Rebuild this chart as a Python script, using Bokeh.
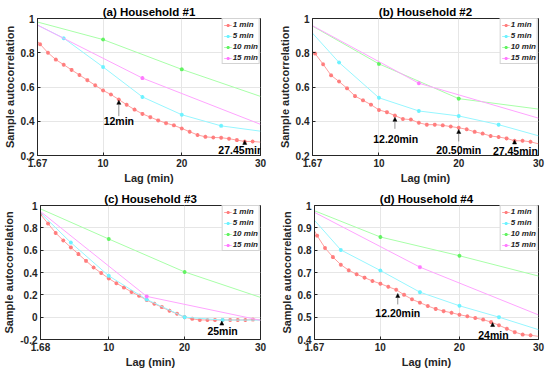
from bokeh.plotting import figure
from bokeh.models import FixedTicker, Arrow, NormalHead, Label, Range1d
from bokeh.layouts import column, row
from bokeh.embed import file_html
from bokeh.resources import INLINE

# ---------------- data ----------------
lags_1min = list(range(1, 31))
lags_5min = [0, 5, 10, 15, 20, 25, 30]
lags_10min = [0, 10, 20, 30]
lags_15min = [0, 15, 30]
series_names = ["1 min", "5 min", "10 min", "15 min"]

a_1min = [0.90, 0.85, 0.80, 0.76, 0.73, 0.70, 0.67, 0.64, 0.61, 0.58,
          0.556, 0.527, 0.496, 0.468, 0.443, 0.424, 0.405, 0.389, 0.376, 0.358,
          0.339, 0.32, 0.309, 0.305, 0.304, 0.298, 0.29, 0.282, 0.282, 0.278]
a_5min = [1.0, 0.885, 0.717, 0.542, 0.438, 0.373, 0.342]
a_10min = [1.0, 0.877, 0.703, 0.545]
a_15min = [1.0, 0.652, 0.382]

b_1min = [0.84, 0.795, 0.733, 0.668, 0.632, 0.592, 0.547, 0.522, 0.497, 0.466,
          0.453, 0.433, 0.413, 0.41, 0.391, 0.38, 0.38, 0.376, 0.369, 0.362,
          0.353, 0.338, 0.328, 0.314, 0.308, 0.30, 0.286, 0.286, 0.28, 0.268]
b_5min = [1.0, 0.743, 0.537, 0.46, 0.431, 0.38, 0.315]
b_10min = [1.0, 0.735, 0.532, 0.471]
b_15min = [1.0, 0.622, 0.418]

c_1min = [0.92, 0.838, 0.754, 0.687, 0.625, 0.565, 0.504, 0.445, 0.395, 0.346,
          0.304, 0.265, 0.226, 0.191, 0.154, 0.12, 0.09, 0.058, 0.03, 0.0,
          -0.015, -0.025, -0.025, -0.025, -0.025, -0.025, -0.025, -0.025, -0.022, -0.025]
c_5min = [1.0, 0.668, 0.37, 0.158, 0.0, -0.026, -0.026]
c_10min = [1.0, 0.70, 0.405, 0.177]
c_15min = [1.0, 0.186, -0.028]

d_1min = [0.93, 0.865, 0.81, 0.769, 0.735, 0.71, 0.692, 0.677, 0.662, 0.65,
          0.636, 0.623, 0.60, 0.58, 0.565, 0.55, 0.537, 0.527, 0.52, 0.511,
          0.504, 0.496, 0.489, 0.478, 0.464, 0.448, 0.433, 0.422, 0.419, 0.414]
d_5min = [1.0, 0.801, 0.709, 0.612, 0.551, 0.50, 0.444]
d_10min = [1.0, 0.859, 0.775, 0.684]
d_15min = [1.0, 0.724, 0.51]

titles = ["(a) Household #1", "(b) Household #2", "(c) Household #3", "(d) Household #4"]

xticks_std = [1.67, 10, 20, 30]
xlabels_std = ["1.67", "10", "20", "30"]
xticks_c = [1, 10, 20, 30]
xlabels_c = ["1.68", "10", "20", "30"]

yticks_ab = [0.2, 0.4, 0.6, 0.8, 1.0]
ylabels_ab = ["0.2", "0.4", "0.6", "0.8", "1"]
yticks_c = [-0.2, 0.0, 0.2, 0.4, 0.6, 0.8, 1.0]
ylabels_c = ["-0.2", "0", "0.2", "0.4", "0.6", "0.8", "1"]
yticks_d = [0.4, 0.5, 0.6, 0.7, 0.8, 0.9, 1.0]
ylabels_d = ["0.4", "0.5", "0.6", "0.7", "0.8", "0.9", "1"]

# annotation: arrow x, arrow head y, arrow tail y, text, text x, text y
ann_a = [(12.0, 0.522, 0.43, "12min", 12.0, 0.400),
         (28.0, 0.288, 0.266, "27.45min", 27.5, 0.232)]
ann_b = [(12.0, 0.423, 0.356, "12.20min", 12.1, 0.297),
         (20.0, 0.352, 0.282, "20.50min", 20.0, 0.232),
         (27.0, 0.291, 0.267, "27.45min", 27.1, 0.228)]
ann_c = [(24.9, -0.035, -0.06, "25min", 25.0, -0.12)]
ann_d = [(12.2, 0.606, 0.557, "12.20min", 12.2, 0.518),
         (24.2, 0.476, 0.463, "24min", 24.3, 0.420)]

line_colors = ["#ffa0a0", "#96f6ff", "#a8ffa8", "#ffa4ff"]
marker_colors = ["#ff7d7d", "#6cf2ff", "#62f262", "#ff7aff"]

FONT = "Liberation Sans"
TXT = "#262626"


def make_panel(title, xr, yr, xticks, xlabels, yticks, ylabels, data, ann,
               w, h, bl, br, bt, bb):
    p = figure(width=w, height=h, output_backend="svg", toolbar_location=None,
               x_range=Range1d(*xr), y_range=Range1d(*yr),
               min_border_left=bl, min_border_right=br,
               min_border_top=bt, min_border_bottom=bb)
    p.title.text = title
    p.title.align = "center"
    p.title.text_font = FONT
    p.title.text_font_size = "11.5px"
    p.title.text_font_style = "bold"
    p.title.text_color = "black"
    p.title.standoff = 1
    p.title.offset = 0

    p.xaxis.ticker = FixedTicker(ticks=xticks)
    p.xaxis.major_label_overrides = dict(zip(xticks, xlabels))
    p.yaxis.ticker = FixedTicker(ticks=yticks)
    p.yaxis.major_label_overrides = dict(zip(yticks, ylabels))
    p.xaxis.axis_label = "Lag (min)"
    p.yaxis.axis_label = "Sample autocorrelation"
    for ax in (p.xaxis[0], p.yaxis[0]):
        ax.axis_label_text_font = FONT
        ax.axis_label_text_font_size = "11px"
        ax.axis_label_text_font_style = "bold"
        ax.axis_label_text_color = TXT
        ax.axis_label_standoff = 2
        ax.major_label_text_font = FONT
        ax.major_label_text_font_size = "10px"
        ax.major_label_text_font_style = "bold"
        ax.major_label_text_color = TXT
        ax.major_label_standoff = 3
        ax.major_tick_in = 3
        ax.major_tick_out = 0
        ax.minor_tick_line_color = None
        ax.axis_line_color = TXT
        ax.major_tick_line_color = TXT
    p.outline_line_color = TXT
    p.outline_line_width = 1
    p.grid.grid_line_color = "#e6e6e6"
    p.grid.grid_line_width = 1

    for i, (xs, ys) in enumerate(data):
        p.line(xs, ys, line_color=line_colors[i], line_width=1.0,
               legend_label=series_names[i])
        mx = [x for x in xs if 0 < x < 30]
        my = [y for x, y in zip(xs, ys) if 0 < x < 30]
        p.scatter(mx, my, marker="asterisk", size=4, line_color=marker_colors[i],
                  line_width=1.1, legend_label=series_names[i])

    for (ax_x, y_head, y_tail, txt, tx, ty) in ann:
        p.add_layout(Arrow(end=NormalHead(size=4, fill_color="black", line_color="black",
                                          line_width=0.5),
                           x_start=ax_x, y_start=y_tail, x_end=ax_x, y_end=y_head,
                           line_color="#666666", line_width=0.7))
        p.add_layout(Label(x=tx, y=ty, text=txt, text_align="center",
                           text_baseline="middle", text_font=FONT,
                           text_font_size="10.5px", text_font_style="bold",
                           text_color="black"))

    lg = p.legend[0]
    lg.location = "top_right"
    lg.label_text_font = FONT
    lg.label_text_font_size = "8px"
    lg.label_text_font_style = "bold italic"
    lg.label_text_color = TXT
    lg.label_height = 8
    lg.label_width = 0
    lg.label_standoff = 1
    lg.glyph_height = 8
    lg.glyph_width = 8
    lg.spacing = 2
    lg.padding = 1
    lg.margin = 0
    lg.border_line_color = "#a8a8a8"
    lg.border_line_width = 1
    lg.background_fill_alpha = 1.0
    return p


pa = make_panel(titles[0], (1.67, 30), (0.2, 1.0), xticks_std, xlabels_std,
                yticks_ab, ylabels_ab,
                [(lags_1min, a_1min), (lags_5min, a_5min), (lags_10min, a_10min),
                 (lags_15min, a_15min)], ann_a, 275, 186, 34, 15, 18, 31)
pb = make_panel(titles[1], (1.67, 30), (0.2, 1.0), xticks_std, xlabels_std,
                yticks_ab, ylabels_ab,
                [(lags_1min, b_1min), (lags_5min, b_5min), (lags_10min, b_10min),
                 (lags_15min, b_15min)], ann_b, 275, 186, 37, 12, 18, 31)
pc = make_panel(titles[2], (1, 30), (-0.2, 1.0), xticks_c, xlabels_c,
                yticks_c, ylabels_c,
                [(lags_1min, c_1min), (lags_5min, c_5min), (lags_10min, c_10min),
                 (lags_15min, c_15min)], ann_c, 275, 186, 36, 15, 19, 32)
pd_ = make_panel(titles[3], (1.67, 30), (0.4, 1.0), xticks_std, xlabels_std,
                 yticks_d, ylabels_d,
                 [(lags_1min, d_1min), (lags_5min, d_5min), (lags_10min, d_10min),
                  (lags_15min, d_15min)], ann_d, 275, 186, 39, 12, 18, 33)

layout = column(row(pa, pb), row(pc, pd_))
open("out.html", "w").write(file_html(layout, INLINE))
